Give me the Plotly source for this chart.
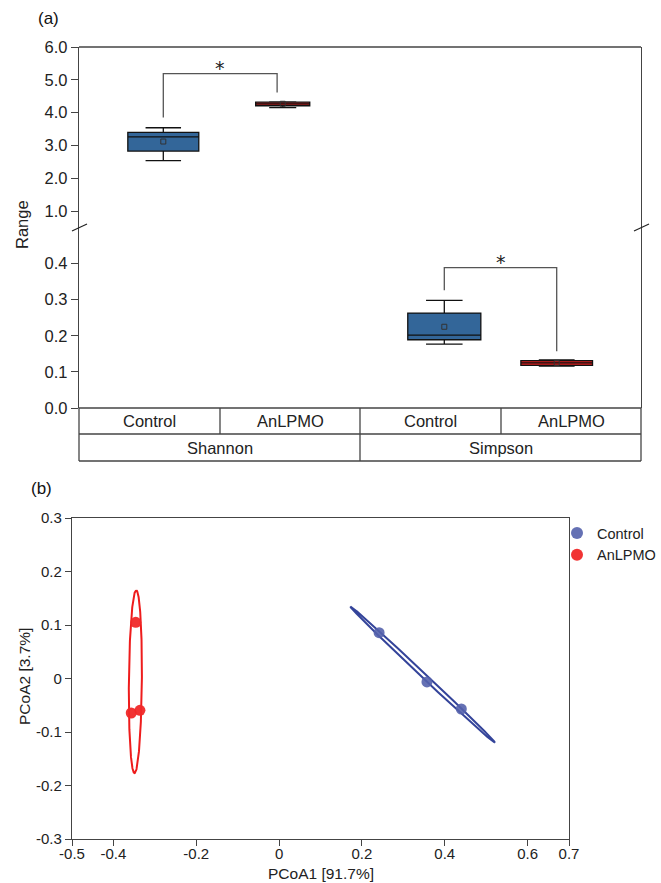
import numpy as np
import plotly.graph_objects as go

W, H = 661, 883
def px(x): return x / W
def py(y): return 1 - y / H

FONT = "Liberation Sans, Arial, sans-serif"
TXT = "#222222"
AX = "#444444"

# ---------------- Panel (a) data ----------------
indices = ["Shannon", "Simpson"]
groups = ["Control", "AnLPMO"]
# box statistics: [Shannon-Control, Shannon-AnLPMO, Simpson-Control, Simpson-AnLPMO]
box_lower = [2.54, 4.15, 0.177, 0.116]
box_q1 = [2.83, 4.21, 0.189, 0.118]
box_median = [3.26, 4.27, 0.202, 0.125]
box_q3 = [3.40, 4.32, 0.263, 0.131]
box_upper = [3.54, 4.33, 0.298, 0.133]
box_mean = [3.12, 4.27, 0.225, 0.125]
box_colors = ["#336699", "#d91e1e", "#336699", "#d91e1e"]
# layout positions (category units, each category 1 wide) and widths
box_pos = [0.60, 1.45, 2.60, 3.40]
box_width = [0.505, 0.385, 0.52, 0.51]

# significance brackets: [left x, right x, left bottom, right bottom, top]
brackets = [
    (0.60, 1.41, 3.85, 4.61, 5.19),
    (2.60, 3.40, 0.326, 0.157, 0.389),
]

# ---------------- Panel (b) data ----------------
ctrl_x = [0.2415, 0.357, 0.440]
ctrl_y = [0.0856, -0.0065, -0.057]
anl_x = [-0.346, -0.357, -0.336]
anl_y = [0.105, -0.0645, -0.0595]
# ellipse parameters: center, half-major vector, half-minor vector
ell_ctrl = dict(c=(0.3468, 0.0072), a=(0.1745, -0.1272), b=(0.0038, 0.0031))
ell_anl = dict(c=(-0.347, -0.006), a=(0.002, 0.171), b=(0.0157, 0.0))

fig = go.Figure()

ax_sub = ["y2", "y2", "y", "y"]
for i in range(4):
    fig.add_trace(go.Box(
        x=[box_pos[i]], q1=[box_q1[i]], median=[box_median[i]], q3=[box_q3[i]],
        lowerfence=[box_lower[i]], upperfence=[box_upper[i]],
        width=box_width[i], whiskerwidth=0.5, fillcolor=box_colors[i],
        line=dict(color="#111111", width=1.3), boxpoints=False,
        xaxis="x", yaxis=ax_sub[i], showlegend=False, hoverinfo="skip"))
    fig.add_trace(go.Scatter(
        x=[box_pos[i]], y=[box_mean[i]], mode="markers",
        marker=dict(symbol="square-open", size=5, color="#333333", line=dict(width=1)),
        xaxis="x", yaxis=ax_sub[i], showlegend=False, hoverinfo="skip"))

shapes = []
annos = []
for (xl, xr, yl, yr, yt), yref in zip(brackets, ["y2", "y"]):
    fig.add_trace(go.Scatter(
        x=[xl, xl, xr, xr], y=[yl, yt, yt, yr], mode="lines",
        line=dict(color="#555555", width=1.3), xaxis="x", yaxis=yref,
        showlegend=False, hoverinfo="skip"))
    annos.append(dict(x=(xl + xr) / 2, y=yt, xref="x", yref=yref, text="*",
                      showarrow=False, xanchor="center", yanchor="bottom", yshift=-7,
                      font=dict(family="DejaVu Sans, sans-serif", size=19, color=TXT)))

# ellipses
t = np.linspace(0, 2 * np.pi, 400)
for e, col in [(ell_ctrl, "#34449a"), (ell_anl, "#ee1c1c")]:
    ex = e["c"][0] + np.cos(t) * e["a"][0] + np.sin(t) * e["b"][0]
    ey = e["c"][1] + np.cos(t) * e["a"][1] + np.sin(t) * e["b"][1]
    fig.add_trace(go.Scatter(x=ex, y=ey, mode="lines", line=dict(color=col, width=2),
                             xaxis="x2", yaxis="y3", showlegend=False, hoverinfo="skip"))

fig.add_trace(go.Scatter(x=ctrl_x, y=ctrl_y, mode="markers", name="Control",
                         marker=dict(size=11, color="rgba(84,98,172,0.9)"),
                         xaxis="x2", yaxis="y3"))
fig.add_trace(go.Scatter(x=anl_x, y=anl_y, mode="markers", name="AnLPMO",
                         marker=dict(size=11, color="rgba(240,40,40,0.95)"),
                         xaxis="x2", yaxis="y3"))

# ---- table under panel (a) ----
L, R = 79, 641
def line(x0, y0, x1, y1, color=AX, w=1.3):
    shapes.append(dict(type="line", xref="paper", yref="paper",
                       x0=px(x0), y0=py(y0), x1=px(x1), y1=py(y1),
                       line=dict(color=color, width=w)))

line(L, 47, R, 47)
line(L, 408, R, 408)
line(L, 434, R, 434)
line(L, 461, R, 461)
line(L, 408, L, 461)
line(R, 408, R, 461)
line(220, 408, 220, 434)
line(360, 408, 360, 461)
line(501, 408, 501, 434)
# axis break marks
line(72, 231, 87, 224, color="#222222", w=1.2)
line(634, 231, 649, 224, color="#222222", w=1.2)

def ptext(x, y, text, size=16, angle=0, color=TXT):
    annos.append(dict(x=px(x), y=py(y), xref="paper", yref="paper", text=text,
                      textangle=angle, showarrow=False, xanchor="center",
                      yanchor="middle", font=dict(family=FONT, size=size, color=color)))

cell_centers = [149.5, 290, 430.5, 571]
for i, c in enumerate(cell_centers):
    ptext(c, 421, groups[i % 2], size=16.5)
for i, c in enumerate([219.5, 500.5]):
    ptext(c, 448, indices[i], size=16.5)

ptext(22, 225, "Range", size=16.5, angle=-90)
ptext(48, 18, "(a)", size=17, color="#111111")
ptext(41, 488, "(b)", size=17, color="#111111")
ptext(321, 873, "PCoA1 [91.7%]", size=15.5)
ptext(24, 677, "PCoA2 [3.7%]", size=15.5, angle=-90)

tickfont = dict(family=FONT, size=16.5, color=TXT)
tickfont_b = dict(family=FONT, size=15, color=TXT)
axcommon = dict(showgrid=False, zeroline=False, showline=True, linecolor=AX,
                linewidth=1.3, ticks="outside", tickcolor=AX, tickwidth=1.2,
                automargin=False)

y1_vals = [0.0, 0.1, 0.2, 0.3, 0.4]
y2_vals = [1.0, 2.0, 3.0, 4.0, 5.0, 6.0]
x2_vals = [-0.5, -0.4, -0.2, 0, 0.2, 0.4, 0.6, 0.7]
y3_vals = [-0.3, -0.2, -0.1, 0, 0.1, 0.2, 0.3]

fig.update_layout(
    width=W, height=H, margin=dict(l=0, r=0, t=0, b=0, autoexpand=False),
    paper_bgcolor="white", plot_bgcolor="white",
    font=dict(family=FONT, color=TXT),
    xaxis=dict(domain=[px(79), px(641)], range=[0, 4], anchor="y",
               showgrid=False, zeroline=False, showline=False,
               showticklabels=False, ticks="", automargin=False),
    yaxis=dict(domain=[py(408), py(227.5)], range=[0, 0.5], anchor="x",
               tickvals=y1_vals, ticktext=[f"{v:.1f}" for v in y1_vals],
               ticklen=7, tickfont=tickfont, mirror=True, **axcommon),
    yaxis2=dict(domain=[py(227.5), py(47)], range=[0.5, 6.0], anchor="x",
                tickvals=y2_vals, ticktext=[f"{v:.1f}" for v in y2_vals],
                ticklen=7, tickfont=tickfont, mirror=True, **axcommon),
    xaxis2=dict(domain=[px(72), px(569)], range=[-0.5, 0.7], anchor="y3",
                tickvals=x2_vals, ticktext=["-0.5", "-0.4", "-0.2", "0", "0.2", "0.4", "0.6", "0.7"],
                ticklen=6, tickfont=tickfont_b, mirror=True, ticklabelstandoff=-5, **axcommon),
    yaxis3=dict(domain=[py(839), py(518)], range=[-0.3, 0.3], anchor="x2",
                tickvals=y3_vals, ticktext=["-0.3", "-0.2", "-0.1", "0", "0.1", "0.2", "0.3"],
                ticklen=6, tickfont=tickfont_b, mirror=True, **axcommon),
    legend=dict(x=px(557), y=py(517), xanchor="left", yanchor="top",
                font=dict(family=FONT, size=14.5, color=TXT), bgcolor="rgba(0,0,0,0)",
                itemsizing="constant", tracegroupgap=0),
    shapes=shapes, annotations=annos, showlegend=True,
)

fig.write_html("out.html", config={"displayModeBar": False},
               post_script="document.body.style.margin='0';document.body.style.overflow='hidden';")
